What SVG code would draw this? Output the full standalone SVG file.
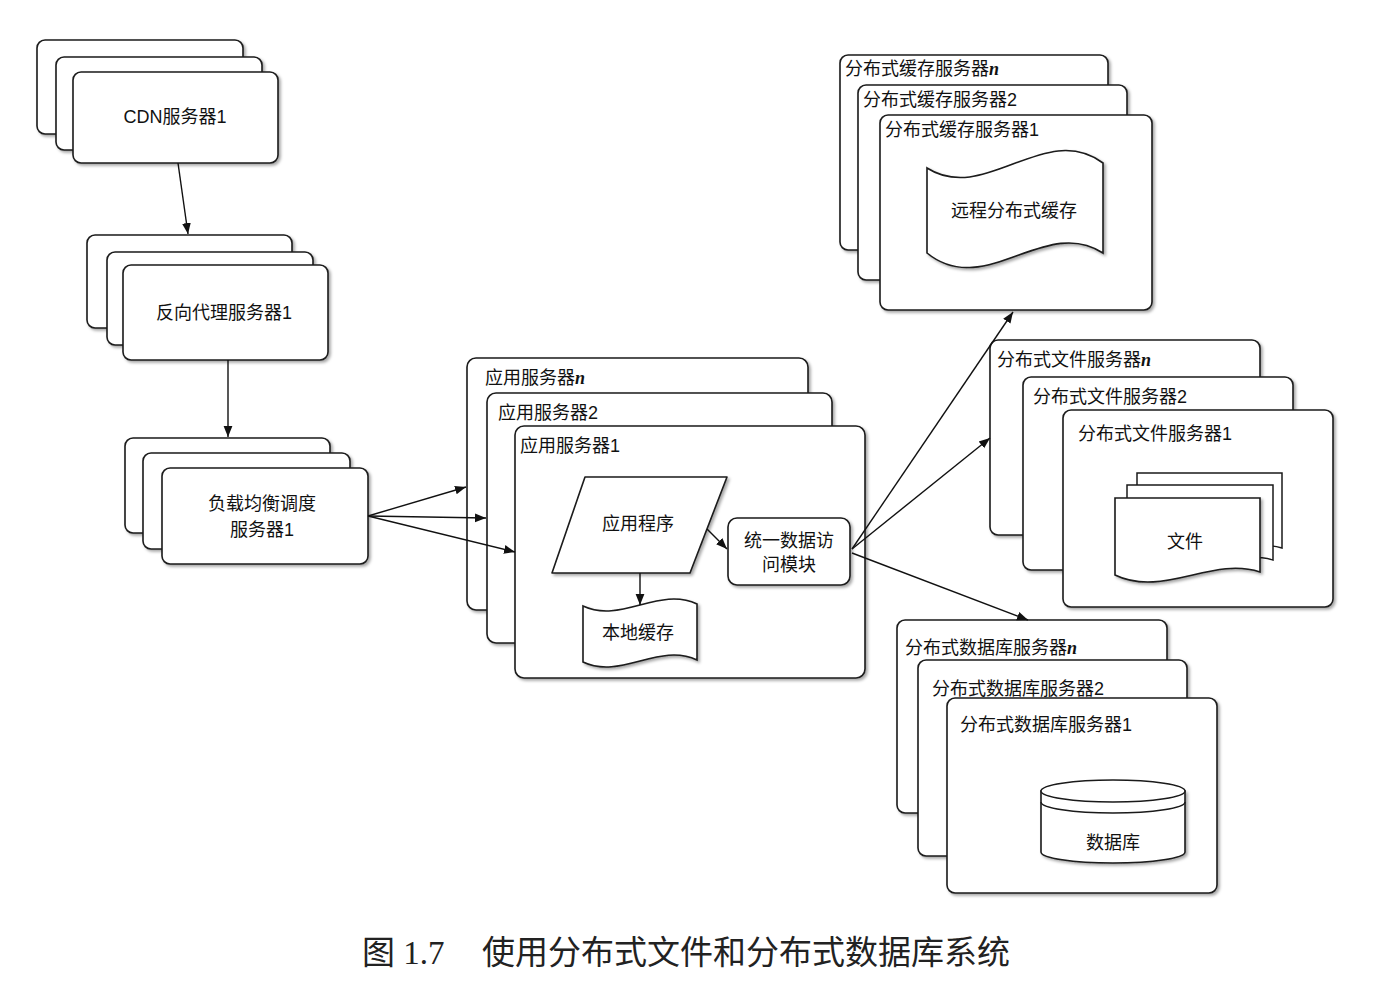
<svg xmlns="http://www.w3.org/2000/svg" width="1384" height="992" viewBox="0 0 1384 992">
<defs>
<filter id="sh" x="-5%" y="-5%" width="115%" height="115%">
<feDropShadow dx="2" dy="2" stdDeviation="1.5" flood-color="#000" flood-opacity="0.35"/>
</filter>
<marker id="ah" viewBox="0 0 10 10" refX="10" refY="5" markerWidth="11" markerHeight="11" markerUnits="userSpaceOnUse" orient="auto">
<path d="M0,1 L10,5 L0,9 Z" fill="#111"/>
</marker>
</defs>
<style>
.b{fill:#fff;stroke:#1a1a1a;stroke-width:1.6;filter:url(#sh)}
.s{fill:#fff;stroke:#1a1a1a;stroke-width:1.5}
.t{font-family:"Liberation Sans","Noto Sans CJK SC",sans-serif;font-size:18px;fill:#111}
.c{text-anchor:middle}
.n{font-family:"Liberation Serif",serif;font-style:italic;font-weight:bold}
.e{fill:none;stroke:#111;stroke-width:1.4;marker-end:url(#ah)}
</style>
<rect width="1384" height="992" fill="#fff"/>

<g id="cdn">
<rect class="b" x="37" y="40" width="206" height="94" rx="8"/>
<rect class="b" x="56" y="57" width="206" height="93" rx="8"/>
<rect class="b" x="73" y="72" width="205" height="91" rx="8"/>
<text class="t c" x="175" y="123">CDN服务器1</text>
</g>

<g id="proxy">
<rect class="b" x="87" y="235" width="205" height="93" rx="8"/>
<rect class="b" x="107" y="252" width="206" height="93" rx="8"/>
<rect class="b" x="123" y="265" width="205" height="95" rx="8"/>
<text class="t c" x="224" y="319">反向代理服务器1</text>
</g>

<g id="lb">
<rect class="b" x="125" y="438" width="205" height="95" rx="8"/>
<rect class="b" x="143" y="453" width="207" height="96" rx="8"/>
<rect class="b" x="162" y="468" width="206" height="96" rx="8"/>
<text class="t c" x="262" y="510">负载均衡调度</text>
<text class="t c" x="262" y="536">服务器1</text>
</g>

<g id="app">
<rect class="b" x="467" y="358" width="341" height="252" rx="9"/>
<text class="t" x="485" y="384">应用服务器<tspan class="n">n</tspan></text>
<rect class="b" x="487" y="393" width="345" height="250" rx="9"/>
<text class="t" x="498" y="419">应用服务器2</text>
<rect class="b" x="515" y="426" width="350" height="252" rx="9"/>
<text class="t" x="520" y="452">应用服务器1</text>
</g>

<g id="appprog">
<path class="b" d="M585,477 L727,477 L690,573 L552,573 Z" stroke-linejoin="round"/>
<text class="t c" x="638" y="530">应用程序</text>
</g>

<g id="localcache">
<path class="b" d="M583,606 C621,624 659,586 697,604 L697,660 C659,642 621,680 583,662 Z"/>
<text class="t c" x="638" y="639">本地缓存</text>
</g>

<g id="dam">
<rect class="b" x="728" y="518" width="122" height="67" rx="9"/>
<text class="t c" x="789" y="547">统一数据访</text>
<text class="t c" x="789" y="571">问模块</text>
</g>

<g id="cache">
<rect class="b" x="840" y="55" width="268" height="195" rx="8"/>
<text class="t" x="845" y="75">分布式缓存服务器<tspan class="n">n</tspan></text>
<rect class="b" x="858" y="85" width="269" height="195" rx="8"/>
<text class="t" x="863" y="106">分布式缓存服务器2</text>
<rect class="b" x="880" y="115" width="272" height="195" rx="8"/>
<text class="t" x="885" y="136">分布式缓存服务器1</text>
<path class="b" d="M927,168 C985,205 1045,120 1103,163 L1103,253 C1045,215 985,300 927,253 Z"/>
<text class="t c" x="1014" y="217">远程分布式缓存</text>
</g>

<g id="file">
<rect class="b" x="990" y="340" width="270" height="195" rx="8"/>
<text class="t" x="997" y="366">分布式文件服务器<tspan class="n">n</tspan></text>
<rect class="b" x="1023" y="377" width="270" height="193" rx="8"/>
<text class="t" x="1033" y="403">分布式文件服务器2</text>
<rect class="b" x="1063" y="410" width="270" height="197" rx="8"/>
<text class="t" x="1078" y="440">分布式文件服务器1</text>
<path class="s" d="M1137,473 H1282 V548 C1250,538 1180,560 1137,548 Z"/>
<path class="s" d="M1127,485 H1273 V560 C1240,550 1170,572 1127,560 Z"/>
<path class="b" d="M1115,498 H1260 V572 C1212,556 1163,598 1115,575 Z"/>
<text class="t c" x="1185" y="548">文件</text>
</g>

<g id="db">
<rect class="b" x="897" y="620" width="270" height="193" rx="8"/>
<text class="t" x="905" y="654">分布式数据库服务器<tspan class="n">n</tspan></text>
<rect class="b" x="918" y="660" width="269" height="196" rx="8"/>
<text class="t" x="932" y="695">分布式数据库服务器2</text>
<rect class="b" x="947" y="698" width="270" height="195" rx="8"/>
<text class="t" x="960" y="731">分布式数据库服务器1</text>
<path class="b" d="M1041,791 V852 A72,11 0 0 0 1185,852 V791 Z"/>
<ellipse class="s" cx="1113" cy="791" rx="72" ry="11"/>
<path d="M1041,802 A72,11 0 0 0 1185,802" fill="none" stroke="#1a1a1a" stroke-width="1.5"/>
<text class="t c" x="1113" y="849">数据库</text>
</g>

<g id="connectors">
<line class="e" x1="178" y1="163" x2="188" y2="234"/>
<line class="e" x1="228" y1="360" x2="228" y2="437"/>
<line class="e" x1="368" y1="516" x2="466" y2="487"/>
<line class="e" x1="368" y1="516" x2="486" y2="518"/>
<line class="e" x1="368" y1="516" x2="515" y2="552"/>
<line class="e" x1="640" y1="573" x2="640" y2="605"/>
<line class="e" x1="707" y1="529" x2="727" y2="549"/>
<line class="e" x1="852" y1="549" x2="1013" y2="312"/>
<line class="e" x1="852" y1="549" x2="990" y2="438"/>
<line class="e" x1="852" y1="553" x2="1028" y2="620"/>
</g>

<text x="362" y="964" font-family="Liberation Serif,'Noto Sans CJK SC',serif" font-size="33" fill="#222">图 1.7<tspan x="482">使用分布式文件和分布式数据库系统</tspan></text>
</svg>
